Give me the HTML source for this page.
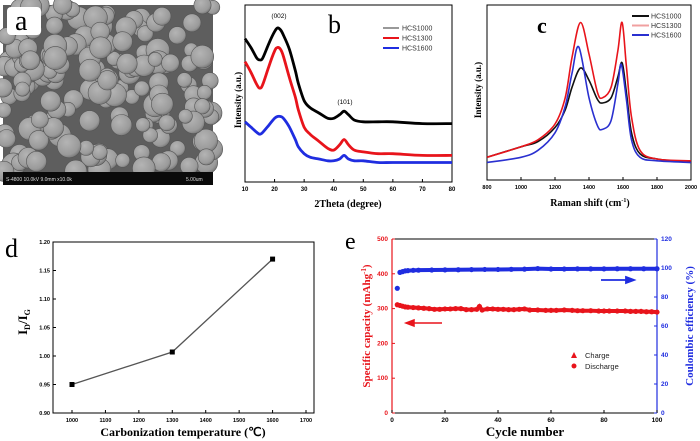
<!DOCTYPE html>
<html><head><meta charset="utf-8"><style>
html,body{margin:0;padding:0;background:#fff;width:700px;height:441px;overflow:hidden}
svg{display:block}
text{font-family:"Liberation Sans",sans-serif}
.serif{font-family:"Liberation Serif",serif}
</style></head><body>
<svg id="fig" width="700" height="441" viewBox="0 0 700 441">
<defs>
<radialGradient id="ball" cx="0.4" cy="0.35" r="0.7"><stop offset="0" stop-color="#b4b4b4"/><stop offset="0.75" stop-color="#9a9a9a"/><stop offset="1" stop-color="#727272"/></radialGradient>
</defs>
<g id="panelA">
<rect x="3" y="5" width="210" height="180" fill="#5e5e5e"/>
<g id="balls"></g>
<rect x="3" y="172" width="210" height="13" fill="#0a0a0a"/>
<text x="6" y="181" font-size="5" fill="#ddd">S-4800 10.0kV 9.0mm x10.0k</text>
<text x="186" y="181" font-size="5" fill="#ddd">5.00um</text>
<rect x="7" y="7" width="34" height="28" rx="4" fill="#fff"/>
<text x="15" y="30" font-size="28" class="serif" fill="#000">a</text>
</g>
<g id="panelB"></g>
<g id="panelC"></g>
<g id="panelD"></g>
<g id="panelE"></g>
</svg>
<script>
// ---- Panel b data (XRD) ----
const xrdX=[10,12,14,15,16,18,20,21,22,23,25,27,28,30,32,35,38,40,42,43.5,45,47,50,55,60,70,80];
const xrd1000=[81,76,70,69,70,78,85,87,86,83,75,63,56,46,42,39,36,36,38,40,38,35,34,34,34,33,33];
const xrd1300=[68,62,55,53,55,65,74,76,75,71,59,48,41,31,27,23,19,18,21,24,21,18,17,16,16,15,15];
const xrd1600=[34,31,28,27,28,32,36,37,37,36,31,24,20,16,14,13,12,12,13,15,13,12,12,11,11,11,11];
const xrdTicks=[10,20,30,40,50,60,70,80];
// ---- Panel c data (Raman) ----
const ramX=[800,1000,1100,1200,1260,1300,1350,1400,1450,1480,1530,1570,1595,1620,1650,1700,1800,2000];
const ram1000=[13,19,22,30,40,53,64,57,46,44,47,59,67,50,27,15,12,10];
const ram1300=[13,19,23,32,47,70,90,72,50,47,53,74,90,65,36,17,12,11];
const ramX1600=[800,1000,1100,1200,1260,1300,1340,1400,1450,1480,1530,1570,1590,1620,1650,1700,1800,2000];
const ram1600=[10,13,17,27,42,61,76,47,31,29,34,55,66,46,23,13,11,10];
const ramTicks=[800,1000,1200,1400,1600,1800,2000];
// ---- Panel d data ----
const dTemps=[1000,1300,1600];
const dRatio=[0.95,1.007,1.17];
const dXTicks=[1000,1100,1200,1300,1400,1500,1600,1700];
const dYTicks=[0.90,0.95,1.00,1.05,1.10,1.15,1.20];
// ---- Panel e data ----
const eCycles=[2,3,4,5,6,8,10,12,14,16,18,20,22,24,26,28,30,32,33,34,36,38,40,42,44,46,48,50,52,55,58,60,62,65,68,70,72,75,78,80,82,85,88,90,92,94,96,98,100];
const eCapacity=[311,309,307,305,304,303,302,301,300,298,298,299,299,300,300,297,297,298,306,296,299,299,298,298,297,297,298,299,296,296,295,295,295,296,295,294,294,294,293,293,293,293,293,292,292,292,291,291,290];
const eEffCycles=[2,3,4,5,6,8,10,15,20,25,30,35,40,45,50,55,60,65,70,75,80,85,90,95,100];
const eEfficiency=[86,97,97.5,98,98.2,98.4,98.5,98.6,98.7,98.8,98.9,99,99,99.1,99.2,99.6,99.3,99.3,99.4,99.4,99.4,99.5,99.5,99.5,99.5];
const eXTicks=[0,20,40,60,80,100];
const eLTicks=[0,100,200,300,400,500];
const eRTicks=[0,20,40,60,80,100,120];

const NS="http://www.w3.org/2000/svg";
function mk(parent,tag,attrs,txt){const e=document.createElementNS(NS,tag);for(const k in attrs)e.setAttribute(k,attrs[k]);if(txt!==undefined)e.textContent=txt;parent.appendChild(e);return e;}
function lin(d0,d1,r0,r1){return v=>r0+(v-d0)/(d1-d0)*(r1-r0);}
function smooth(pts){let d="M"+pts[0][0]+","+pts[0][1];for(let i=0;i<pts.length-1;i++){const p0=pts[Math.max(0,i-1)],p1=pts[i],p2=pts[i+1],p3=pts[Math.min(pts.length-1,i+2)];const c1=[p1[0]+(p2[0]-p0[0])/6,p1[1]+(p2[1]-p0[1])/6],c2=[p2[0]-(p3[0]-p1[0])/6,p2[1]-(p3[1]-p1[1])/6];d+=" C"+c1[0].toFixed(1)+","+c1[1].toFixed(1)+" "+c2[0].toFixed(1)+","+c2[1].toFixed(1)+" "+p2[0].toFixed(1)+","+p2[1].toFixed(1);}return d;}

// SEM balls (decorative texture)
(function(){const g=document.getElementById('balls');let s=7;const r=()=>{s=(s*9301+49297)%233280;return s/233280;};
for(let i=0;i<170;i++){const c=mk(g,'circle',{cx:(3+r()*210).toFixed(1),cy:(5+r()*170).toFixed(1),r:(7+r()*5).toFixed(1),fill:'url(#ball)',stroke:'#555','stroke-width':0.6});

}})();

// Panel b
(function(){const g=document.getElementById('panelB');const L=245,R=452,T=5,B=182;
const X=lin(10,80,L,R),Y=lin(0,100,B,T);
const f=mk(g,'rect',{x:L,y:T,width:R-L,height:B-T,fill:'none',stroke:'#000','stroke-width':1});

xrdTicks.forEach(t=>{mk(g,'line',{x1:X(t),x2:X(t),y1:B,y2:B-3,stroke:'#000'});
const tl=mk(g,'text',{x:X(t),y:B+9,'font-size':6,'text-anchor':'middle','font-weight':'bold'},t);
});
[[xrd1000,'#000','hcs1000'],[xrd1300,'#e8141b','hcs1300'],[xrd1600,'#1f2de0','hcs1600']].forEach(([v,c,n])=>{
const p=mk(g,'path',{d:smooth(xrdX.map((x,i)=>[X(x),Y(v[i])])),fill:'none',stroke:c,'stroke-width':2.8});
});
const t1=mk(g,'text',{x:279,y:18,'font-size':6.5,'text-anchor':'middle'},'(002)');
const t2=mk(g,'text',{x:345,y:104,'font-size':6.5,'text-anchor':'middle'},'(101)');
const bl=mk(g,'text',{x:328,y:33,'font-size':26,class:'serif'},'b');
[['HCS1000','#999'],['HCS1300','#e8141b'],['HCS1600','#1f2de0']].forEach(([n,c],i)=>{const y=28+i*10;
mk(g,'line',{x1:383,x2:399,y1:y,y2:y,stroke:c,'stroke-width':2});
const lt=mk(g,'text',{x:402,y:y+2.5,'font-size':7,fill:'#333'},n);});
const xt=mk(g,'text',{x:348,y:207,'font-size':10,'font-weight':'bold','text-anchor':'middle',class:'serif'},'2Theta (degree)');
const yt=mk(g,'text',{x:0,y:0,'font-size':9,'font-weight':'bold','text-anchor':'middle',class:'serif',transform:'translate(241,100) rotate(-90)'},'Intensity (a.u.)');
})();

// Panel c
(function(){const g=document.getElementById('panelC');const L=487,R=691,T=5,B=180;
const X=lin(800,2000,L,R),Y=lin(0,100,B,T);
const f=mk(g,'rect',{x:L,y:T,width:R-L,height:B-T,fill:'none',stroke:'#000','stroke-width':1});

ramTicks.forEach(t=>{mk(g,'line',{x1:X(t),x2:X(t),y1:B,y2:B-3,stroke:'#000'});
const tl=mk(g,'text',{x:X(t),y:B+9,'font-size':5.5,'text-anchor':'middle','font-weight':'bold'},t);
});
[[ramX,ram1000,'#111','hcs1000'],[ramX,ram1300,'#e8141b','hcs1300'],[ramX1600,ram1600,'#2a30d0','hcs1600']].forEach(([xs,v,c,n])=>{
const p=mk(g,'path',{d:smooth(xs.map((x,i)=>[X(x),Y(v[i])])),fill:'none',stroke:c,'stroke-width':1.6});
});
const cl=mk(g,'text',{x:537,y:33,'font-size':22,'font-weight':'bold',class:'serif'},'c');
[['HCS1000','#111'],['HCS1300','#f0a0a0'],['HCS1600','#2a30d0']].forEach(([n,c],i)=>{const y=16+i*9.5;
mk(g,'line',{x1:632,x2:649,y1:y,y2:y,stroke:c,'stroke-width':2});
const lt=mk(g,'text',{x:651,y:y+2.5,'font-size':7,fill:'#333'},n);});
const xt=mk(g,'text',{x:590,y:206,'font-size':10,'font-weight':'bold','text-anchor':'middle',class:'serif'});
xt.innerHTML='Raman shift (cm<tspan font-size="6" dy="-4">-1</tspan><tspan dy="4">)</tspan>';

const yt=mk(g,'text',{x:0,y:0,'font-size':9,'font-weight':'bold','text-anchor':'middle',class:'serif',transform:'translate(481,90) rotate(-90)'},'Intensity (a.u.)');
})();

// Panel d
(function(){const g=document.getElementById('panelD');const L=53,R=314,T=242,B=413;
const X=lin(1000,1700,72,306),Y=lin(0.90,1.20,B,T);
const f=mk(g,'rect',{x:L,y:T,width:R-L,height:B-T,fill:'none',stroke:'#000','stroke-width':1});

dXTicks.forEach(t=>{mk(g,'line',{x1:X(t),x2:X(t),y1:B,y2:B-3,stroke:'#000'});
const tl=mk(g,'text',{x:X(t),y:B+9,'font-size':5.5,'text-anchor':'middle','font-weight':'bold'},t);
});
dYTicks.forEach(t=>{mk(g,'line',{x1:L,x2:L+3,y1:Y(t),y2:Y(t),stroke:'#000'});
const tl=mk(g,'text',{x:L-3,y:Y(t)+2,'font-size':5.5,'text-anchor':'end','font-weight':'bold'},t.toFixed(2));
});
const pl=mk(g,'polyline',{points:dTemps.map((t,i)=>X(t)+','+Y(dRatio[i])).join(' '),fill:'none',stroke:'#555','stroke-width':1.3});

dTemps.forEach((t,i)=>{const m=mk(g,'rect',{x:X(t)-2.5,y:Y(dRatio[i])-2.5,width:5,height:5,fill:'#000'});
});
const dl=mk(g,'text',{x:5,y:257,'font-size':26,class:'serif'},'d');
const xt=mk(g,'text',{x:183,y:436,'font-size':12,'font-weight':'bold','text-anchor':'middle',class:'serif'},'Carbonization temperature (℃)');
const yt=mk(g,'text',{x:0,y:0,'font-size':13,'font-weight':'bold','text-anchor':'middle',class:'serif',transform:'translate(27,322) rotate(-90)'});
yt.innerHTML='I<tspan font-size="8" dy="3">D</tspan><tspan dy="-3">/I</tspan><tspan font-size="8" dy="3">G</tspan>';

})();

// Panel e
(function(){const g=document.getElementById('panelE');const L=392,R=657,T=239,B=413;
const X=lin(0,100,L,R),YL=lin(0,500,B,T),YR=lin(0,120,B,T);
mk(g,'line',{x1:L,x2:R,y1:B,y2:B,stroke:'#000'});mk(g,'line',{x1:L,x2:R,y1:T,y2:T,stroke:'#000'});
const la=mk(g,'line',{x1:L,x2:L,y1:T,y2:B,stroke:'#e8141b','stroke-width':1.2});
const ra=mk(g,'line',{x1:R,x2:R,y1:T,y2:B,stroke:'#1f2de0','stroke-width':1.2});
eXTicks.forEach(t=>{mk(g,'line',{x1:X(t),x2:X(t),y1:B,y2:B-3,stroke:'#000'});
const tl=mk(g,'text',{x:X(t),y:B+9,'font-size':6.5,'text-anchor':'middle','font-weight':'bold'},t);
});
eLTicks.forEach(t=>{mk(g,'line',{x1:L,x2:L+3,y1:YL(t),y2:YL(t),stroke:'#e8141b'});
const tl=mk(g,'text',{x:L-4,y:YL(t)+2,'font-size':6.5,'text-anchor':'end','font-weight':'bold',fill:'#e8141b'},t);
});
eRTicks.forEach(t=>{mk(g,'line',{x1:R,x2:R-3,y1:YR(t),y2:YR(t),stroke:'#1f2de0'});
const tl=mk(g,'text',{x:R+4,y:YR(t)+2,'font-size':6.5,'font-weight':'bold',fill:'#1f2de0'},t);
});
eCycles.forEach((c,i)=>{const m=mk(g,'circle',{cx:X(c),cy:YL(eCapacity[i]),r:2.6,fill:'#e8141b'});
});
eEffCycles.forEach((c,i)=>{const m=mk(g,'circle',{cx:X(c),cy:YR(eEfficiency[i]),r:2.6,fill:'#1f2de0'});
});
const ep=mk(g,'path',{d:'M'+eEffCycles.slice(1).map((c,i)=>X(c)+','+YR(eEfficiency[i+1])).join(' L'),fill:'none',stroke:'#1f2de0','stroke-width':4});

const cp=mk(g,'path',{d:'M'+eCycles.map((c,i)=>X(c)+','+YL(eCapacity[i])).join(' L'),fill:'none',stroke:'#e8141b','stroke-width':4});

const ba=mk(g,'path',{d:'M601,280 L630,280 M626,277 L634,280 L626,283 Z',stroke:'#1f2de0','stroke-width':1.8,fill:'#1f2de0'});
const rr=mk(g,'path',{d:'M442,323 L410,323 M414,320 L406,323 L414,326 Z',stroke:'#e8141b','stroke-width':1.5,fill:'#e8141b'});
mk(g,'path',{d:'M571,358 L574,352 L577,358 Z',fill:'#e8141b'});
const l1=mk(g,'text',{x:585,y:358,'font-size':7.5,fill:'#222'},'Charge');
mk(g,'circle',{cx:574,cy:366,r:2.5,fill:'#e8141b'});
const l2=mk(g,'text',{x:585,y:369,'font-size':7.5,fill:'#222'},'Discharge');
const el=mk(g,'text',{x:345,y:249,'font-size':24,class:'serif'},'e');
const xt=mk(g,'text',{x:525,y:436,'font-size':13,'font-weight':'bold','text-anchor':'middle',class:'serif'},'Cycle number');
const yl=mk(g,'text',{x:0,y:0,'font-size':11,'font-weight':'bold','text-anchor':'middle',class:'serif',fill:'#e8141b',transform:'translate(370,326) rotate(-90)'});
yl.innerHTML='Specific capacity (mAhg<tspan font-size="7" dy="-4">-1</tspan><tspan dy="4">)</tspan>';

const yr=mk(g,'text',{x:0,y:0,'font-size':11,'font-weight':'bold','text-anchor':'middle',class:'serif',fill:'#1f2de0',transform:'translate(693,326) rotate(-90)'},'Coulombic efficiency (%)');

})();
</script>
</body></html>
